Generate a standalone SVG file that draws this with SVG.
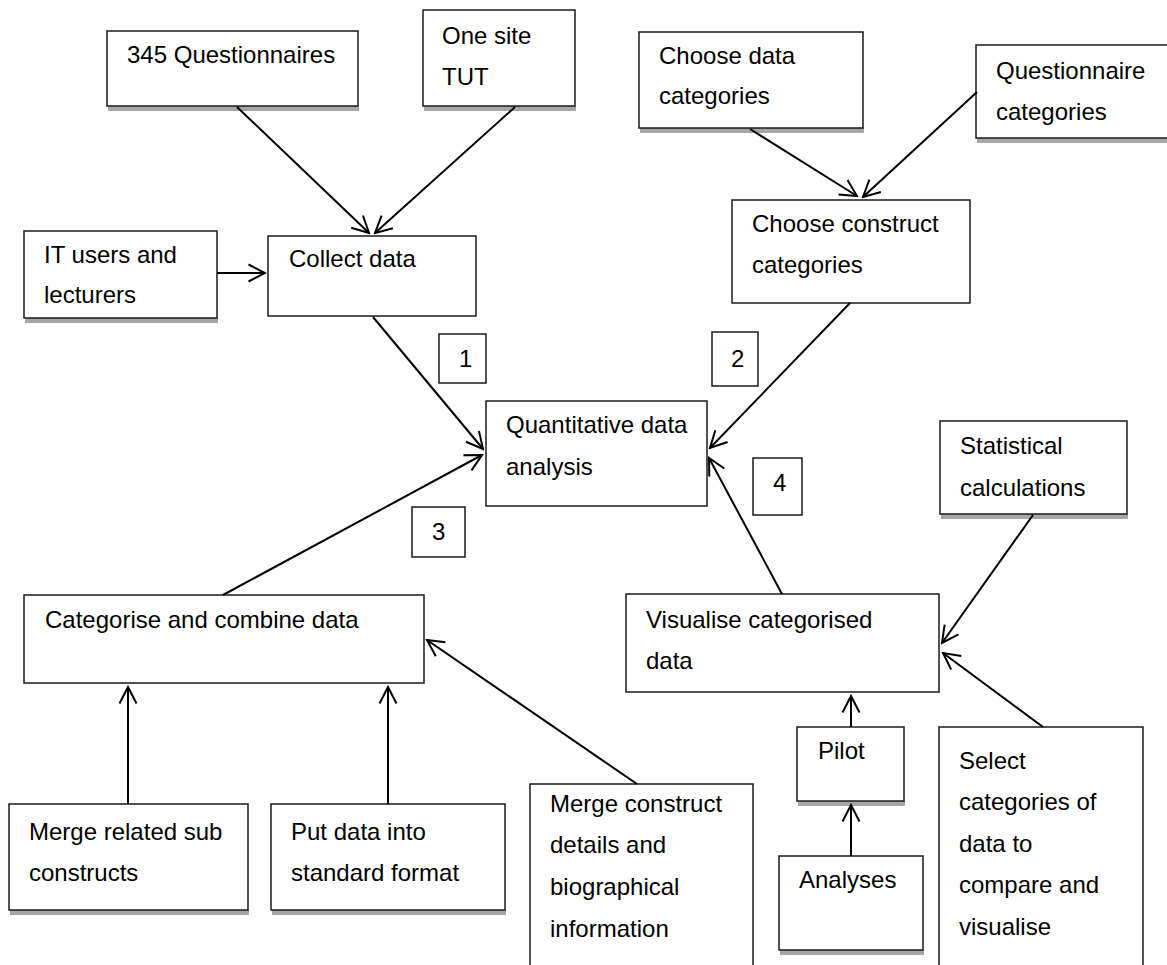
<svg xmlns="http://www.w3.org/2000/svg" width="1167" height="965" viewBox="0 0 1167 965">
<style>
.bx{fill:#fff;stroke:#1a1a1a;stroke-width:1.5}
.sh{fill:#a6a6a6}
.t{font-family:"Liberation Sans",Arial,sans-serif;font-size:24px;fill:#000}
.c{stroke:#000;stroke-width:2;fill:none;marker-end:url(#ah)}
</style>
<defs>
<marker id="ah" viewBox="0 0 20 20" refX="18" refY="10" markerWidth="20" markerHeight="20" markerUnits="userSpaceOnUse" orient="auto">
<path d="M1.5,1.5 L18,10 L1.5,18.5" fill="none" stroke="#000" stroke-width="2"/>
</marker>
</defs>
<rect width="1167" height="965" fill="#fff"/>
<g id="q345"><rect class="sh" x="108" y="106" width="251" height="5"/><rect class="bx" x="107" y="31" width="251" height="75"/><text class="t" x="127" y="63">345 Questionnaires</text></g>
<g id="site"><rect class="sh" x="424" y="106" width="152" height="5"/><rect class="bx" x="423" y="10" width="152" height="96"/><text class="t" x="442" y="44">One site</text><text class="t" x="442" y="85">TUT</text></g>
<g id="choosedata"><rect class="sh" x="640" y="128" width="224" height="5"/><rect class="bx" x="639" y="32" width="224" height="96"/><text class="t" x="659" y="64">Choose data</text><text class="t" x="659" y="104">categories</text></g>
<g id="qcat"><rect class="sh" x="977" y="138" width="194" height="5"/><rect class="bx" x="976" y="45" width="200" height="93"/><text class="t" x="996" y="79">Questionnaire</text><text class="t" x="996" y="120">categories</text></g>
<g id="itusers"><rect class="sh" x="25" y="318" width="193" height="5"/><rect class="bx" x="24" y="231" width="193" height="87"/><text class="t" x="44" y="263">IT users and</text><text class="t" x="44" y="303">lecturers</text></g>
<g id="collect"><rect class="bx" x="268" y="236" width="208" height="80"/><text class="t" x="289" y="267">Collect data</text></g>
<g id="construct"><rect class="bx" x="732" y="200" width="238" height="103"/><text class="t" x="752" y="232">Choose construct</text><text class="t" x="752" y="273">categories</text></g>
<g id="n1"><rect class="bx" x="439" y="334" width="47" height="49"/><text class="t" x="459" y="367">1</text></g>
<g id="n2"><rect class="bx" x="712" y="332" width="46" height="54"/><text class="t" x="731" y="367">2</text></g>
<g id="quant"><rect class="bx" x="486" y="401" width="221" height="105"/><text class="t" x="506" y="433">Quantitative data</text><text class="t" x="506" y="475">analysis</text></g>
<g id="n3"><rect class="bx" x="412" y="507" width="53" height="50"/><text class="t" x="432" y="540">3</text></g>
<g id="n4"><rect class="bx" x="753" y="458" width="49" height="57"/><text class="t" x="773" y="491">4</text></g>
<g id="stat"><rect class="sh" x="941" y="514" width="187" height="5"/><rect class="bx" x="940" y="421" width="187" height="93"/><text class="t" x="960" y="454">Statistical</text><text class="t" x="960" y="496">calculations</text></g>
<g id="categorise"><rect class="bx" x="24" y="595" width="400" height="88"/><text class="t" x="45" y="628">Categorise and combine data</text></g>
<g id="visualise"><rect class="bx" x="626" y="594" width="313" height="98"/><text class="t" x="646" y="628">Visualise categorised</text><text class="t" x="646" y="669">data</text></g>
<g id="pilot"><rect class="sh" x="798" y="801" width="107" height="5"/><rect class="bx" x="797" y="727" width="107" height="74"/><text class="t" x="818" y="759">Pilot</text></g>
<g id="select"><rect class="bx" x="939" y="727" width="204" height="260"/><text class="t" x="959" y="769">Select</text><text class="t" x="959" y="810">categories of</text><text class="t" x="959" y="852">data to</text><text class="t" x="959" y="893">compare and</text><text class="t" x="959" y="935">visualise</text></g>
<g id="merge1"><rect class="sh" x="10" y="910" width="239" height="5"/><rect class="bx" x="9" y="804" width="239" height="106"/><text class="t" x="29" y="840">Merge related sub</text><text class="t" x="29" y="881">constructs</text></g>
<g id="putdata"><rect class="sh" x="272" y="910" width="234" height="5"/><rect class="bx" x="271" y="804" width="234" height="106"/><text class="t" x="291" y="840">Put data into</text><text class="t" x="291" y="881">standard format</text></g>
<g id="merge2"><rect class="bx" x="530" y="784" width="223" height="200"/><text class="t" x="550" y="812">Merge construct</text><text class="t" x="550" y="853">details and</text><text class="t" x="550" y="895">biographical</text><text class="t" x="550" y="937">information</text></g>
<g id="analyses"><rect class="sh" x="780" y="950" width="144" height="5"/><rect class="bx" x="779" y="856" width="144" height="94"/><text class="t" x="799" y="888">Analyses</text></g>
<g id="connectors">
<line class="c" x1="237" y1="107" x2="369" y2="233"/>
<line class="c" x1="515" y1="107" x2="375" y2="233"/>
<line class="c" x1="217" y1="273" x2="265" y2="273"/>
<line class="c" x1="750" y1="129" x2="857" y2="196"/>
<line class="c" x1="977" y1="92" x2="863" y2="197"/>
<line class="c" x1="373" y1="317" x2="483" y2="449"/>
<line class="c" x1="223" y1="595" x2="482" y2="455"/>
<line class="c" x1="850" y1="303" x2="710" y2="448"/>
<line class="c" x1="782" y1="594" x2="709" y2="458"/>
<line class="c" x1="1033" y1="515" x2="942" y2="643"/>
<line class="c" x1="1043" y1="727" x2="943" y2="653"/>
<line class="c" x1="851" y1="727" x2="851" y2="696"/>
<line class="c" x1="851" y1="856" x2="851" y2="805"/>
<line class="c" x1="128" y1="804" x2="128" y2="687"/>
<line class="c" x1="388" y1="804" x2="388" y2="687"/>
<line class="c" x1="637" y1="784" x2="427" y2="640"/>
</g>
</svg>
